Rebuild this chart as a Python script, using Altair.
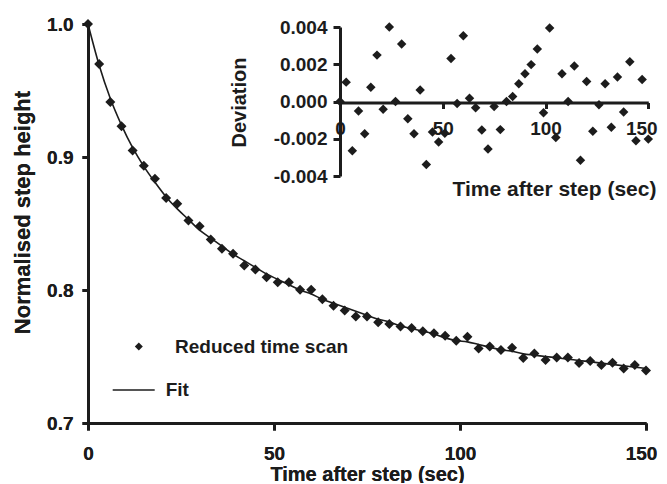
import altair as alt
import pandas as pd

# ---------------- data ----------------
scan_time = [0, 3, 6, 9, 12, 15, 18, 21, 24, 27, 30, 33, 36, 39, 42, 45, 48, 51, 54, 57,
             60, 63, 66, 69, 72, 75, 78, 81, 84, 87, 90, 93, 96, 99, 102, 105, 108, 111,
             114, 117, 120, 123, 126, 129, 132, 135, 138, 141, 144, 147, 150]
scan_height = [1.0000, 0.9699, 0.9414, 0.9231, 0.9048, 0.8935, 0.8837, 0.8691, 0.8649,
               0.8523, 0.8480, 0.8380, 0.8310, 0.8272, 0.8184, 0.8154, 0.8096, 0.8058,
               0.8058, 0.8001, 0.8001, 0.7930, 0.7882, 0.7845, 0.7800, 0.7800, 0.7757,
               0.7744, 0.7726, 0.7714, 0.7689, 0.7674, 0.7656, 0.7619, 0.7649, 0.7561,
               0.7576, 0.7549, 0.7566, 0.7488, 0.7523, 0.7473, 0.7493, 0.7493, 0.7451,
               0.7466, 0.7436, 0.7453, 0.7410, 0.7436, 0.7395]

fit_time = scan_time
fit_height = [1.000, 0.969, 0.944, 0.924, 0.907, 0.893, 0.881, 0.870, 0.861, 0.853, 0.845,
              0.839, 0.833, 0.827, 0.822, 0.817, 0.812, 0.808, 0.804, 0.800, 0.797, 0.793,
              0.790, 0.787, 0.784, 0.781, 0.778, 0.776, 0.773, 0.771, 0.769, 0.767, 0.764,
              0.762, 0.761, 0.759, 0.757, 0.755, 0.754, 0.752, 0.751, 0.750, 0.749, 0.748,
              0.747, 0.746, 0.745, 0.744, 0.743, 0.742, 0.741]

dev_time = scan_time
deviation = [0.0, 0.00104, -0.00265, -0.00051, -0.00173, 0.00076, 0.00249, -0.00042,
             0.00400, 0.0, 0.00309, -0.00093, -0.00173, 0.00062, -0.00338, -0.00164,
             -0.00218, -0.00170, 0.00231, -0.00011, 0.00353, 0.00018, -0.00033, -0.00153,
             -0.00255, -0.00027, -0.00151, 0.0, 0.00027, 0.00095, 0.00149, 0.00198,
             0.00282, -0.00060, 0.00395, -0.00193, 0.00149, 0.0, 0.00191, -0.00315,
             0.00107, -0.00160, -0.00018, 0.00095, -0.00138, 0.00131, -0.00056, 0.00213,
             -0.00211, 0.00118, -0.00202]

main_ticks_x = [0, 50, 100, 150]
main_ticks_y = [0.7, 0.8, 0.9, 1.0]
inset_ticks_y = [-0.004, -0.002, 0.0, 0.002, 0.004]

scan_df = pd.DataFrame({"t": scan_time, "h": scan_height, "series": "Reduced time scan"})
fit_df = pd.DataFrame({"t": fit_time, "h": fit_height, "series": "Fit"})
dev_df = pd.DataFrame({"t": dev_time, "d": deviation})

# ---------------- styling ----------------
FONT = "Liberation Sans"
INK = "#1c1c1c"

axis_common = dict(
    grid=False, domainWidth=3, domainColor=INK, tickWidth=3, tickColor=INK,
    labelFont=FONT, labelFontWeight="bold", labelColor=INK,
    titleFont=FONT, titleFontWeight="bold", titleColor=INK, labelFlush=False,
)

# keep the right-most tick label inside the drawing
last_label_shift = {"condition": {"test": "datum.value == 150", "value": -5}, "value": 0}

x_main = alt.X(
    "t:Q",
    scale=alt.Scale(domain=[0, 150], nice=False, zero=False),
    axis=alt.Axis(values=main_ticks_x, title="Time after step (sec)", tickSize=7,
                  labelFontSize=19, labelPadding=14, titleFontSize=20, titlePadding=1,
                  labelOffset=last_label_shift, orient="bottom", **axis_common),
)
y_main = alt.Y(
    "h:Q",
    scale=alt.Scale(domain=[0.7, 1.0], nice=False, zero=False),
    axis=alt.Axis(values=main_ticks_y, format=".1f", title="Normalised step height",
                  tickSize=6, labelFontSize=19, labelPadding=9, titleFontSize=22,
                  titleX=-66, titleY=188, titleAngle=-90, titleAlign="center",
                  titleBaseline="middle", orient="left", **axis_common),
)

points = alt.Chart(scan_df).mark_point(filled=True, size=100, color=INK, opacity=1).encode(
    x=x_main, y=y_main,
    shape=alt.Shape(
        "series:N",
        scale=alt.Scale(domain=["Reduced time scan"], range=["diamond"]),
        legend=alt.Legend(orient="none", legendX=41.3, legendY=313, title=None, padding=0,
                          symbolSize=64, symbolFillColor=INK, symbolStrokeColor=INK,
                          symbolStrokeWidth=0, labelFont=FONT, labelFontSize=19,
                          labelFontWeight="bold", labelColor=INK, labelOffset=26.7,
                          labelLimit=400),
    ),
)

line = alt.Chart(fit_df).mark_line(strokeWidth=1.6, interpolate="monotone").encode(
    x=x_main, y=y_main,
    color=alt.Color(
        "series:N",
        scale=alt.Scale(domain=["Fit"], range=[INK]),
        legend=alt.Legend(orient="none", legendX=23.7, legendY=344, title=None, padding=0,
                          symbolType="stroke", symbolSize=1764, symbolStrokeWidth=1.6,
                          symbolStrokeColor=INK, labelFont=FONT, labelFontSize=19,
                          labelFontWeight="bold", labelColor=INK, labelOffset=10,
                          labelLimit=400),
    ),
)

inset_last_shift = {"condition": {"test": "datum.value == 150", "value": -7}, "value": 0}

x_in = alt.X(
    "t:Q",
    scale=alt.Scale(domain=[0, 150], range=[252, 560.3], nice=False, zero=False),
    axis=alt.Axis(orient="bottom", offset=-320.5, values=main_ticks_x,
                  title="Time after step (sec)", tickSize=6, labelFontSize=19,
                  labelPadding=11, titleFontSize=21, titleX=466, titleY=86.5,
                  titleAlign="center", titleBaseline="middle",
                  labelOffset=inset_last_shift, **axis_common),
)
y_in = alt.Y(
    "d:Q",
    scale=alt.Scale(domain=[-0.004, 0.004], range=[152, 3], nice=False, zero=False),
    axis=alt.Axis(orient="left", offset=-252, values=inset_ticks_y,
                  labelExpr="replace(format(datum.value, '.3f'), '\u2212', '-')",
                  title="Deviation", tickSize=7, labelFontSize=19, labelPadding=6,
                  titleFontSize=20, titleX=-100.5, titleY=78, titleAngle=-90,
                  titleAlign="center", titleBaseline="middle", **axis_common),
)

inset = alt.Chart(dev_df).mark_point(filled=True, size=90, color=INK, opacity=1,
                                     shape="diamond").encode(x=x_in, y=y_in)

chart = (
    alt.layer(line, points, inset)
    .resolve_scale(x="independent", y="independent")
    .resolve_axis(x="independent", y="independent")
    .properties(width=558, height=399,
                padding={"left": 80, "top": 16, "right": 13, "bottom": 60},
                autosize=alt.AutoSizeParams(type="none"))
    .configure_view(stroke=None)
)

chart.save("out.html", embed_options={"renderer": "svg", "actions": False})
